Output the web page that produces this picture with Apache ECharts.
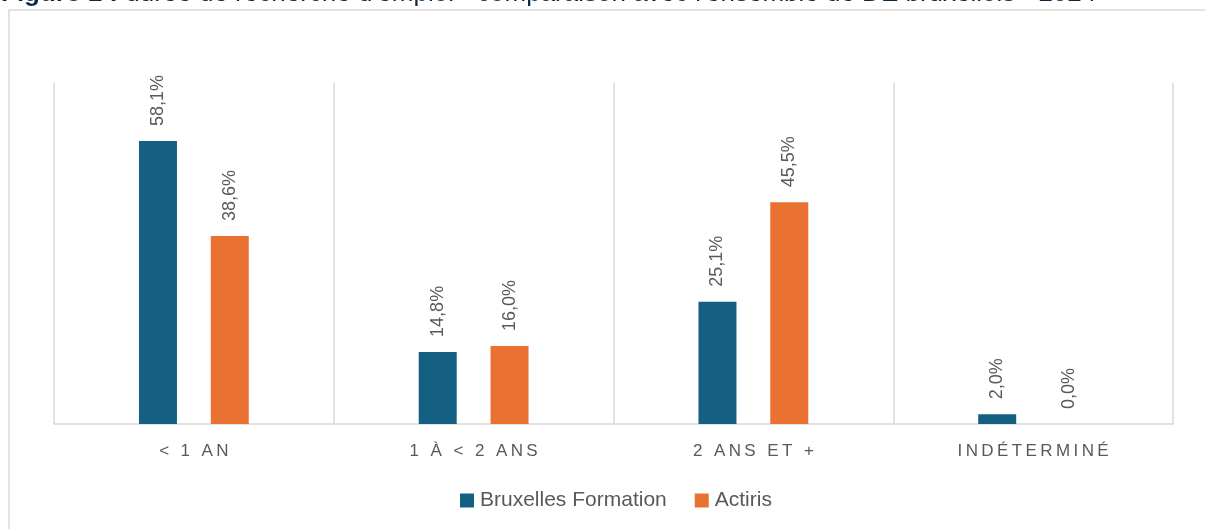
<!DOCTYPE html>
<html><head><meta charset="utf-8">
<script src="https://cdn.jsdelivr.net/npm/echarts@6/dist/echarts.min.js"></script>
<style>html,body{margin:0;padding:0;background:#fff}#c{width:1205px;height:529px}</style>
</head><body><div id="c"></div>
<script>
const titleText = "durée de recherche d'emploi - comparaison avec l'ensemble de DE bruxellois - 2024";
const categories = ["< 1 AN", "1 À < 2 ANS", "2 ANS ET +", "INDÉTERMINÉ"];
const seriesNames = ["Bruxelles Formation", "Actiris"];
const bruxellesFormation = [58.1, 14.8, 25.1, 2.0];
const actiris = [38.6, 16.0, 45.5, 0.0];
const colors = ["#156082", "#E97132"];
const FONT = "Liberation Sans";

const spaced = s => s.split('').join('\u2009');
const fmtPct = p => p.value.toFixed(1).replace('.', ',') + '%';

const chart = echarts.init(document.getElementById('c'));
const labelCfg = {
  show: true, position: 'top', rotate: 90, distance: 15,
  align: 'left', verticalAlign: 'middle',
  color: '#595959', fontSize: 18, fontFamily: FONT, formatter: fmtPct
};
chart.setOption({
  animation: false,
  backgroundColor: '#fff',
  graphic: [
    { type: 'rect', shape: { x: 9, y: 10, width: 1220, height: 540 }, style: { fill: 'none', stroke: '#d9d9d9', lineWidth: 1.5 }, silent: true },
    { type: 'text', x: 1, y: 7, silent: true, style: {
        text: '{b|Figure 1 :} ' + titleText,
        verticalAlign: 'bottom',
        rich: { b: { fontWeight: 'bold', fontSize: 26, fill: '#0E2841', fontFamily: FONT } },
        fontSize: 26, fill: '#0E2841', fontFamily: FONT } }
  ],
  grid: { left: 54, right: 32, top: 83, bottom: 105, containLabel: false },
  legend: {
    bottom: 18, left: 460, padding: 0, itemWidth: 14, itemHeight: 14, itemGap: 28,
    icon: 'rect', textStyle: { color: '#595959', fontSize: 21, fontFamily: FONT, padding: [0, 0, 0, 1] },
    data: seriesNames
  },
  xAxis: {
    type: 'category', data: categories,
    axisLine: { lineStyle: { color: '#d9d9d9', width: 1.5 } },
    axisTick: { show: false },
    splitLine: { show: true, lineStyle: { color: '#d9d9d9', width: 1.5 } },
    axisLabel: { color: '#595959', fontSize: 17, fontFamily: FONT, margin: 19, formatter: v => spaced(v) }
  },
  yAxis: { type: 'value', min: 0, max: 70, show: false, splitLine: { show: false } },
  series: [
    { name: seriesNames[0], type: 'bar', data: bruxellesFormation, itemStyle: { color: colors[0] },
      barWidth: 38, barGap: '89%', label: labelCfg },
    { name: seriesNames[1], type: 'bar', data: actiris, itemStyle: { color: colors[1] },
      barWidth: 38, label: labelCfg }
  ]
});
</script></body></html>
